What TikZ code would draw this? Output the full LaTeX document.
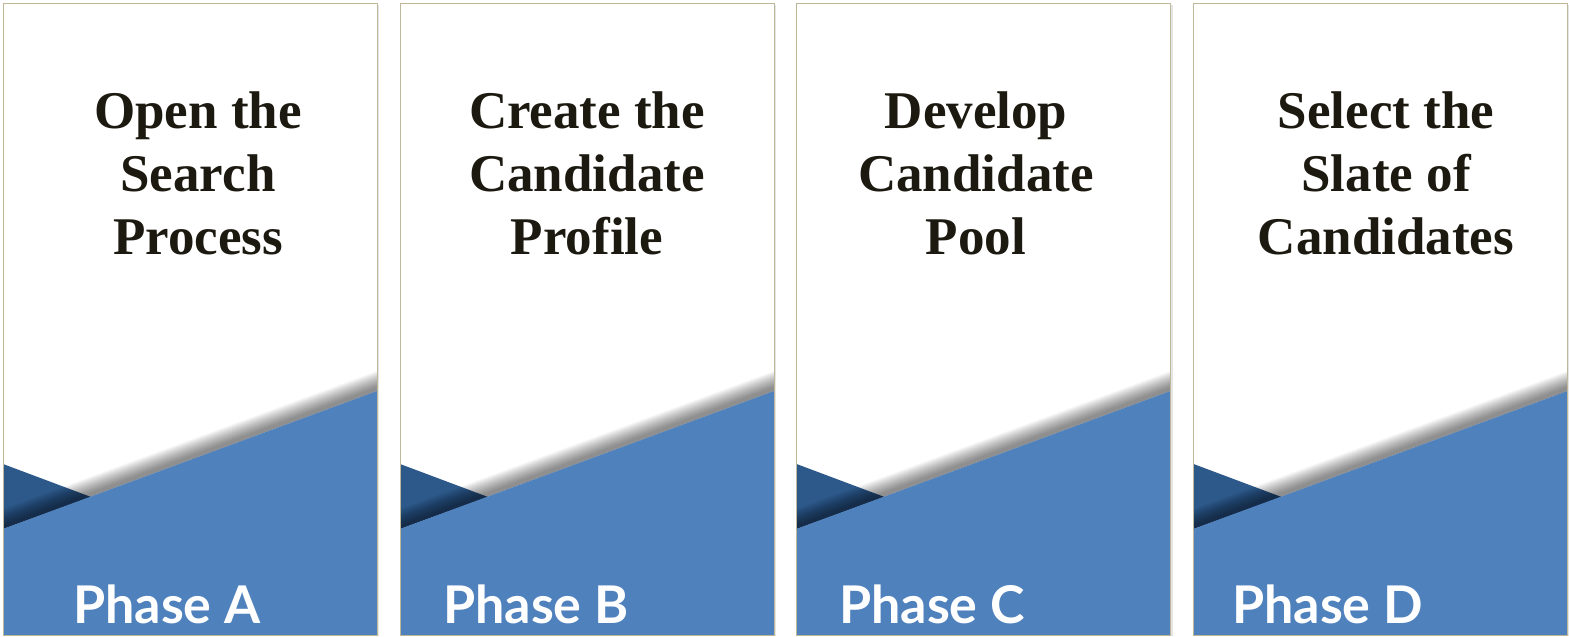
\documentclass[tikz,border=0pt]{standalone}
\usepackage{fontspec}
\setmainfont{Liberation Serif}
\newfontfamily\latofont{Lato}
\definecolor{pblue}{RGB}{79,129,189}
\definecolor{pdark}{RGB}{45,88,138}
\definecolor{pborder}{RGB}{190,184,152}
\definecolor{ptext}{RGB}{28,26,16}
\tikzset{
  titletext/.style={align=center,inner sep=0pt,anchor=base,text=ptext,
    font=\fontsize{53}{63}\selectfont\bfseries},
  phasetext/.style={inner sep=0pt,anchor=base west,text=white,
    font=\latofont\bfseries\fontsize{52}{60}\selectfont},
  panelborder/.style={draw=pborder,line width=0.9pt}
}
\begin{document}
\begin{tikzpicture}[x=1pt,y=1pt]
\useasboundingbox[fill=white] (0,0) rectangle (1569,637);
\foreach \L/\cx/\px/\ttl/\ph in {
  3/198/73/{Open the\\Search\\Process}/A,
  400/587/443/{Create the\\Candidate\\Profile}/B,
  796.5/976/839/{Develop\\Candidate\\Pool}/C,
  1193.5/1386/1232/{Select the\\Slate of\\Candidates}/D}{
  % panel drop shadow
  \fill[black,opacity=0.10] (\L+1.5,0.5) rectangle (\L+376,632);
  \fill[white] (\L,2) rectangle (\L+374,634);
  \begin{scope}
    \clip (\L,2) rectangle (\L+374,634);
    % dark triangle
    \fill[pdark] (\L,173) -- (\L+88,140) -- (\L,108) -- cycle;
    % blurred shadow above the blue edge
    \foreach \d in {4,...,20}{
      \fill[black,opacity=0.03] (\L,108+\d) -- (\L+374,246+\d) -- (\L+374,246) -- (\L,108) -- cycle;
    }
    % blue band
    \fill[pblue] (\L,108) -- (\L+374,246) -- (\L+374,2) -- (\L,2) -- cycle;
  \end{scope}
  \draw[panelborder] (\L,2) rectangle (\L+374,634);
  \node[titletext] (title\ph) at (\cx,382) {\ttl};
  \node[phasetext] (phase\ph) at (\px,13) {Phase \ph};
}
\end{tikzpicture}
\end{document}
